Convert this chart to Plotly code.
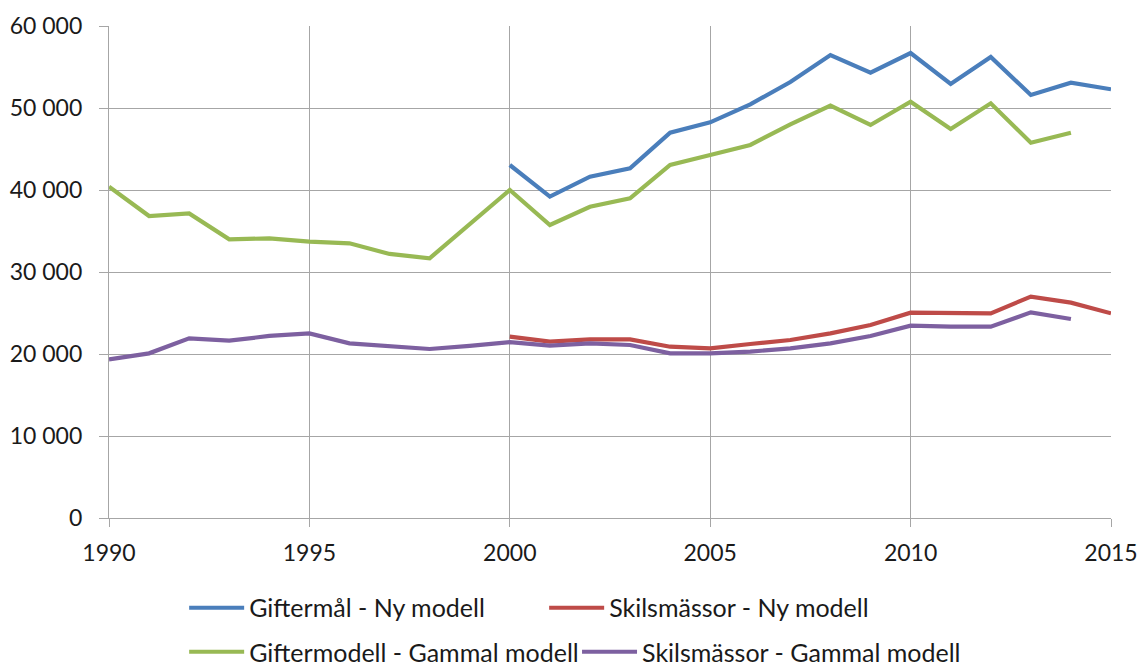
import plotly.graph_objects as go

years_old = list(range(1990, 2015))
years_new = list(range(2000, 2016))

gifter_ny = [43050, 39190, 41630, 42640, 46990, 48250, 50450, 53170, 56460,
             54310, 56700, 52930, 56220, 51590, 53090, 52280]
skils_ny = [22110, 21500, 21790, 21790, 20890, 20690, 21220, 21710, 22520,
            23540, 25040, 24960, 24960, 26990, 26260, 24960]
gifter_gammal = [40400, 36830, 37150, 33980, 34100, 33700, 33500, 32200, 31670,
                 35800, 40000, 35730, 37960, 38980, 43050, 44270, 45490, 48000,
                 50300, 47930, 50770, 47440, 50570, 45770, 46990]
skils_gammal = [19350, 20080, 21910, 21630, 22200, 22520, 21300, 20980, 20610,
                20980, 21450, 21020, 21300, 21100, 20080, 20080, 20290, 20690,
                21300, 22200, 23450, 23330, 23330, 25080, 24270]

names = ["Giftermål - Ny modell", "Skilsmässor - Ny modell",
         "Giftermodell - Gammal modell", "Skilsmässor - Gammal modell"]
colors = ["#4A7EBB", "#BE4B48", "#98B954", "#7D60A0"]

y_ticks = [0, 10000, 20000, 30000, 40000, 50000, 60000]
y_labels = ["0", "10 000", "20 000", "30 000", "40 000", "50 000", "60 000"]
x_ticks = [1990, 1995, 2000, 2005, 2010, 2015]

FONT = "Lato, Carlito, sans-serif"
GRID = "#A6A6A6"

fig = go.Figure()
series = [(years_new, gifter_ny, "legend"), (years_new, skils_ny, "legend"),
          (years_old, gifter_gammal, "legend2"), (years_old, skils_gammal, "legend3")]
for (xs, ys, lg), nm, c in zip(series, names, colors):
    fig.add_trace(go.Scatter(x=xs, y=ys, mode="lines", name=nm, legend=lg,
                             line=dict(color=c, width=4.2)))

leg_common = dict(orientation="h", xref="paper", yref="container",
                  xanchor="left", yanchor="middle", font=dict(size=25),
                  itemwidth=55, bgcolor="rgba(0,0,0,0)")

fig.update_layout(
    width=1141, height=666,
    margin=dict(l=109, r=30, t=26, b=148, autoexpand=False),
    paper_bgcolor="white", plot_bgcolor="white",
    font=dict(family=FONT, size=23, color="#1A1A1A"),
    showlegend=True,
    legend=dict(leg_common, x=0.075, y=0.0871, entrywidth=290),
    legend2=dict(leg_common, x=0.075, y=0.021),
    legend3=dict(leg_common, x=0.4671, y=0.021),
    xaxis=dict(range=[1990, 2015], tickvals=x_ticks, showgrid=True,
               gridcolor=GRID, gridwidth=1.3, showline=True,
               linecolor=GRID, linewidth=1.3, ticks="outside", ticklen=8,
               tickcolor=GRID, tickwidth=1.3, zeroline=False, automargin=False,
               ticklabelstandoff=6, tickfont=dict(size=23)),
    yaxis=dict(range=[0, 60000], tickvals=y_ticks, ticktext=y_labels,
               showgrid=True, gridcolor=GRID, gridwidth=1.3, showline=True,
               linecolor=GRID, linewidth=1.3, ticks="outside", ticklen=9,
               tickcolor=GRID, tickwidth=1.3, zeroline=False, automargin=False,
               ticklabelstandoff=12, tickfont=dict(size=23)),
)

fig.write_html(
    "out.html",
    config={"displayModeBar": False},
    post_script="document.body.style.margin='0';document.body.style.overflow='hidden';",
)
